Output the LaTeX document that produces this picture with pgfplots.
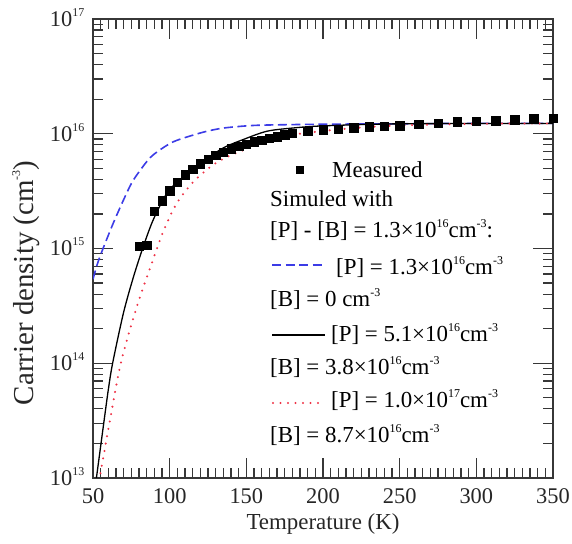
\documentclass[border=0pt]{standalone}
\usepackage{pgfplots}
\pgfplotsset{compat=1.18}
\usepackage{fontspec}
\setmainfont{Liberation Serif}
% small raised exponent, as in 10^16 and cm^-3
\newcommand{\sups}[1]{\raisebox{0.45em}{\fontsize{12}{12}\selectfont #1}}
\definecolor{simblue}{RGB}{60,60,230}
\definecolor{simred}{RGB}{238,50,70}
\definecolor{axisgray}{RGB}{55,55,55}

% measured carrier density
\pgfplotstableread{
T n
80 1.05e15
85 1.07e15
90 2.1e15
95 2.6e15
100 3.2e15
105 3.8e15
110 4.4e15
115 4.9e15
120 5.5e15
125 6.0e15
130 6.5e15
135 6.9e15
140 7.4e15
145 7.8e15
150 8.1e15
155 8.5e15
160 8.8e15
165 9.1e15
170 9.4e15
175 9.8e15
180 1.01e16
190 1.05e16
200 1.08e16
210 1.10e16
220 1.13e16
230 1.15e16
240 1.16e16
250 1.17e16
262.5 1.21e16
275 1.24e16
287.5 1.27e16
300 1.29e16
312.5 1.30e16
325 1.32e16
337.5 1.35e16
350 1.37e16
}\measured

% simulation: [P] = 1.3e16, [B] = 0
\pgfplotstableread{
T n
50 5.4e14
52.8 7.3e14
56.3 9.8e14
63.2 1.66e15
69.8 2.63e15
75.2 3.72e15
80.7 4.79e15
87.2 6.17e15
93.7 7.24e15
102.4 8.51e15
113.3 9.55e15
124.2 1.05e16
135 1.12e16
150 1.17e16
163 1.19e16
200 1.21e16
250 1.22e16
300 1.23e16
350 1.23e16
}\simA

% simulation: [P] = 5.1e16, [B] = 3.8e16
\pgfplotstableread{
T n
52 9.5e12
56.7 2.8e13
60 5.9e13
62.8 1.0e14
69.8 2.72e14
76.3 5.6e14
82.8 1.04e15
89.3 1.78e15
98 3.0e15
105 3.8e15
113.3 4.68e15
122 5.75e15
134.8 7.5e15
148 8.9e15
163.3 1.05e16
180 1.12e16
200 1.17e16
250 1.22e16
350 1.23e16
}\simB

% simulation: [P] = 1.0e17, [B] = 8.7e16
\pgfplotstableread{
T n
54 9.5e12
61 3.16e13
67.6 9.3e13
74 1.95e14
80.7 3.8e14
88.3 7.4e14
95 1.32e15
102.4 2.19e15
108.9 3.0e15
117.6 4.07e15
128.5 5.37e15
139.4 6.46e15
154.6 7.76e15
167.6 8.83e15
185 1.0e16
220 1.12e16
250 1.18e16
300 1.22e16
350 1.23e16
}\simC

\begin{document}
\begin{tikzpicture}[x=1bp,y=1bp,font=\fontsize{23}{27}\selectfont]
\useasboundingbox (0,0) rectangle (572,544);
\begin{axis}[
  at={(93bp,66bp)}, anchor=south west,
  width=460bp, height=459bp, scale only axis,
  xmin=50, xmax=350, ymin=1e13, ymax=1e17, ymode=log,
  xtick={50,100,...,350}, minor x tick num=9,
  ytick={1e13,1e14,1e15,1e16,1e17},
  yticklabels={10\sups{13},10\sups{14},10\sups{15},10\sups{16},10\sups{17}},
  tick align=inside, major tick length=20bp, minor tick length=10bp,
  axis line style={axisgray, line width=1.3bp},
  tick style={axisgray, line width=1.2bp},
  tick label style={font=\fontsize{22.5}{27}\selectfont, text=black!85, inner sep=0.5bp},
  x tick label style={yshift=-10bp},
  y tick label style={xshift=-8bp, yshift=1.5bp},
  /pgf/number format/assume math mode=true,
  xlabel={Temperature (K)},
  ylabel={Carrier density (cm\sups{-3})},
  label style={text=black!85},
  xlabel style={font=\fontsize{23}{27}\selectfont, at={(axis description cs:0.5,-0.113)}, anchor=base},
  ylabel style={font=\fontsize{29}{33}\selectfont, at={(axis description cs:-0.146,0.425)}, anchor=center},
]
\addplot[simblue, line width=1.6bp, dash pattern=on 9bp off 4.5bp, smooth] table[x=T,y=n] {\simA};
\addplot[black, line width=1.3bp, smooth] table[x=T,y=n] {\simB};
\addplot[simred, line width=2.3bp, line cap=round, dash pattern=on 0bp off 7.5bp, smooth] table[x=T,y=n] {\simC};
\addplot[only marks, mark=square*, mark size=4.2bp, black] table[x=T,y=n] {\measured};
\end{axis}

% key
\node[fill=black, minimum size=8bp, inner sep=0] at (300,374) {};
\node[anchor=base west, inner sep=0] at (332,366) {Measured};
\node[anchor=base west, inner sep=0] at (270,337) {Simuled with};
\node[anchor=base west, inner sep=0] at (270,306) {[P] - [B] = 1.3×10\sups{16}cm\sups{-3}:};
\draw[simblue, line width=1.6bp, dash pattern=on 9bp off 4.5bp] (272,279) -- (323,279);
\node[anchor=base west, inner sep=0] at (336,269) {[P] = 1.3×10\sups{16}cm\sups{-3}};
\node[anchor=base west, inner sep=0] at (270,237) {[B] = 0 cm\sups{-3}};
\draw[black, line width=1.3bp] (272,209) -- (325,209);
\node[anchor=base west, inner sep=0] at (331,202) {[P] = 5.1×10\sups{16}cm\sups{-3}};
\node[anchor=base west, inner sep=0] at (270,169) {[B] = 3.8×10\sups{16}cm\sups{-3}};
\draw[simred, line width=2.3bp, line cap=round, dash pattern=on 0bp off 7.5bp] (273,141) -- (322,141);
\node[anchor=base west, inner sep=0] at (331,136) {[P] = 1.0×10\sups{17}cm\sups{-3}};
\node[anchor=base west, inner sep=0] at (270,101) {[B] = 8.7×10\sups{16}cm\sups{-3}};
\end{tikzpicture}
\end{document}
